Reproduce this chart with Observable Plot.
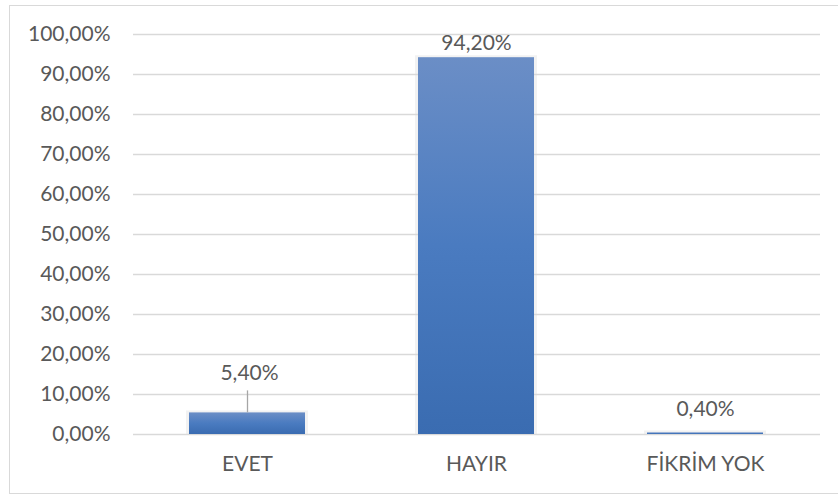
<!DOCTYPE html>
<html>
<head>
<meta charset="utf-8">
<script src="https://cdn.jsdelivr.net/npm/d3@7"></script>
<script src="https://cdn.jsdelivr.net/npm/@observablehq/plot@0.6"></script>
<style>
  html, body { margin: 0; padding: 0; background: #fff; }
  #wrap { position: relative; width: 838px; height: 496px; overflow: hidden; }
  #border { position: absolute; left: 9px; top: 5px; width: 840px; height: 489px; border: 1.5px solid #d9d9d9; box-sizing: border-box; }
  #chart { position: absolute; left: 0; top: 0; }
</style>
</head>
<body>
<div id="wrap"><div id="border"></div><div id="chart"></div></div>
<script>
const categories = ["EVET", "HAYIR", "FİKRİM YOK"];
const values = [0.054, 0.942, 0.004];
const labels = ["5,40%", "94,20%", "0,40%"];
const yTicks = [0, 0.1, 0.2, 0.3, 0.4, 0.5, 0.6, 0.7, 0.8, 0.9, 1.0];

const data = categories.map((c, i) => ({cat: c, value: values[i], label: labels[i]}));
const fmt = v => (v * 100).toFixed(2).replace(".", ",") + "%";
const textColor = "#595959";
const fs = 21;

const labelDy = {"EVET": -40, "HAYIR": -14, "FİKRİM YOK": -24};

const chart = Plot.plot({
  width: 838,
  height: 496,
  marginLeft: 133,
  marginRight: 18,
  marginTop: 34,
  marginBottom: 62,
  style: {fontFamily: "Lato, 'Open Sans', sans-serif", fontSize: fs + "px", color: textColor, background: "transparent"},
  x: {domain: categories, paddingInner: 0.493, paddingOuter: 0.2465, label: null},
  y: {domain: [0, 1], label: null},
  marks: [
    Plot.ruleY(yTicks, {stroke: "#d9d9d9", strokeWidth: 1.5}),
    Plot.axisY({ticks: yTicks, tickFormat: fmt, tickSize: 0, tickPadding: 23, label: null}),
    Plot.axisX({tickSize: 0, tickPadding: 22, label: null}),
    // soft shadow behind bars
    Plot.barY(data, {x: "cat", y: "value", fill: "#d9d9d9", fillOpacity: 0.35, insetLeft: -3, insetRight: -3, insetTop: -2}),
    Plot.barY(data, {x: "cat", y: "value", fill: "url(#barGrad)"}),
    Plot.ruleX(data.filter(d => d.cat === "EVET"), {x: "cat", y1: "value", y2: "value", insetTop: -22, stroke: "#a6a6a6", strokeWidth: 1.3}),
    ...categories.map(c =>
      Plot.text(data.filter(d => d.cat === c), {x: "cat", y: "value", text: "label", dy: labelDy[c], dx: c === "EVET" ? 2 : 0, fill: textColor, fontSize: fs})
    )
  ]
});

const svg = d3.select(chart);
const defs = svg.insert("defs", ":first-child");
const g = defs.append("linearGradient").attr("id", "barGrad").attr("x1", 0).attr("y1", 0).attr("x2", 0).attr("y2", 1);
g.append("stop").attr("offset", "0%").attr("stop-color", "#6b8ec6");
g.append("stop").attr("offset", "50%").attr("stop-color", "#4a7bc0");
g.append("stop").attr("offset", "100%").attr("stop-color", "#3a6cb1");
svg.selectAll("text").attr("fill", textColor);

document.getElementById("chart").appendChild(chart);
</script>
</body>
</html>
